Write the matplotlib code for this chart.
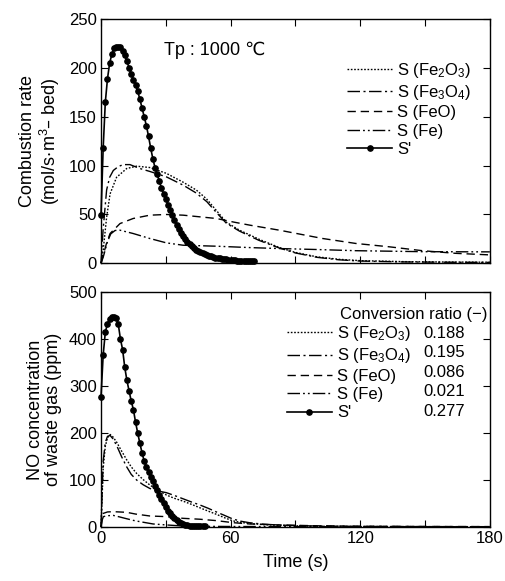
import numpy as np
import matplotlib
matplotlib.use("Agg")
import matplotlib.pyplot as plt

plt.rcParams['font.family'] = ['Liberation Sans', 'DejaVu Sans']
plt.rcParams['mathtext.default'] = 'regular'

# ---- data ----
# top panel: combustion rate (mol/s.m3-bed)
t_fe2o3_top = [0, 1, 2.6, 4.2, 7.2, 11.9, 16.5, 22.6, 30.3, 38, 44.2, 48.8, 53.4, 58, 64.1, 73.4, 82.6, 90, 100, 110, 120, 140, 160, 180]
v_fe2o3_top = [0, 13, 47, 71, 88, 97, 99.4, 98, 92, 83, 74.8, 66, 54, 42, 33.8, 24.3, 16, 11, 6.5, 4, 2.6, 1.6, 1.2, 1]

t_fe3o4_top = [0, 1, 2.6, 4, 5.7, 8, 10.3, 13.4, 18, 22.6, 30.3, 38, 44, 49, 53.4, 58, 64, 73, 82.6, 90, 100, 110, 120, 140, 160, 180]
v_fe3o4_top = [0, 35, 75, 88, 95, 99, 101, 101, 97, 94, 88.4, 80, 72, 63, 52, 41, 33, 23.5, 15.5, 10.5, 6, 3.5, 2.2, 1.3, 1, 0.8]

t_feo_top = [0, 1, 2.5, 4.2, 8.8, 14.9, 22.6, 30.3, 38, 45.7, 53.4, 61, 68.8, 82.6, 102.6, 118, 133.4, 148.8, 164.2, 180]
v_feo_top = [0, 8, 20, 30.4, 40.6, 45.8, 49.2, 49.9, 49.2, 47.5, 45.8, 42.3, 39, 33.8, 25.3, 20.2, 16.8, 12.8, 10.1, 8.5]

t_fe_top = [0, 1, 2, 3, 4.5, 6.5, 8.8, 14.9, 22.6, 30.3, 38, 53.4, 68.8, 82.6, 100, 118, 148.8, 180]
v_fe_top = [0, 6, 14, 22, 30, 33.5, 33.8, 30.4, 25.3, 20.8, 18.4, 17.4, 16, 15, 14, 12.8, 11.8, 11.6]

t_s_top = list(range(0, 72))
v_s_top = [49, 118, 165, 189, 205, 214, 220, 222, 222, 221, 217, 213, 207, 200, 194, 188, 183, 176, 168, 159,
           150, 141, 130, 118, 107, 98, 91, 84, 77, 71, 66, 60, 54, 49, 44, 39, 35, 31, 28, 25,
           22, 19.5, 17.5, 15.5, 14, 12.5, 11, 10, 9, 8.2, 7.5, 6.9, 6.3, 5.8, 5.3, 4.9, 4.5, 4.1, 3.8, 3.5,
           3.2, 3.0, 2.8, 2.6, 2.4, 2.3, 2.2, 2.1, 2.0, 1.9, 1.8, 1.8]

# bottom panel: NO concentration (ppm)
t_fe2o3_bot = [0, 0.5, 1, 2, 3, 4.2, 5.5, 7.2, 9.5, 11.9, 14, 16.5, 19.5, 22.6, 26, 30.3, 34, 38, 42, 45.7, 49.5, 53.4, 57, 61, 65, 68.8, 75, 82.6, 90, 100, 120, 150, 180]
v_fe2o3_bot = [0, 60, 125, 172, 190, 197, 192, 181, 162, 143, 128, 114, 101, 89.4, 79, 68, 61, 55, 48, 41, 34, 27, 20, 13, 9.5, 7.5, 5, 3.5, 2.5, 1.5, 1, 0.7, 0.5]

t_fe3o4_bot = [0, 0.5, 1, 2, 3, 4.2, 5.5, 7.2, 9.5, 11.9, 14, 16.5, 19.5, 22.6, 26, 30.3, 34, 38, 42, 45.7, 49.5, 53.4, 57, 61, 65, 68.8, 75, 82.6, 90, 100, 120, 150, 180]
v_fe3o4_bot = [0, 70, 140, 180, 193, 195, 188, 174, 150, 128, 112, 100, 90, 82, 77, 73, 67, 60, 53, 47, 40, 32, 25, 17, 12, 9, 6, 4, 3, 2, 1.2, 0.8, 0.6]

t_feo_bot = [0, 0.5, 1.1, 3, 5.7, 11.9, 16, 22.6, 30.3, 38, 45.7, 53.4, 61, 68.8, 82.6, 100, 120, 150, 180]
v_feo_bot = [0, 18, 29, 32, 32.6, 31.2, 27.5, 23.4, 22, 18.4, 16.5, 13.5, 9.2, 6.4, 4.3, 2.5, 1.5, 1, 0.8]

t_fe_bot = [0, 0.5, 1.1, 3, 5.7, 8.5, 11.9, 15, 18, 24.1, 30.3, 38, 45, 60, 90, 120, 180]
v_fe_bot = [0, 14, 22, 24, 24.6, 21.5, 17.5, 14, 11.3, 6.4, 4.3, 2, 1.4, 1, 0.7, 0.5, 0.4]

t_s_bot = list(range(0, 49))
v_s_bot = [277, 366, 415, 433, 443, 447, 447, 446, 432, 400, 378, 340, 312, 290, 268, 250, 223, 200, 178, 158,
           140, 128, 117, 106, 97, 87, 78, 69, 60, 51, 43, 35, 29, 23, 18.5, 14.5, 11, 8.5, 6.5, 5,
           3.8, 3.0, 2.4, 2.0, 1.8, 1.6, 1.5, 1.4, 1.3]

labels = ['S (Fe$_2$O$_3$)', 'S (Fe$_3$O$_4$)', 'S (FeO)', 'S (Fe)', "S'"]
conv_ratio = ['0.188', '0.195', '0.086', '0.021', '0.277']

# line styles per series
styles = [dict(ls=(0, (1.2, 1.2)), lw=1.0),
          dict(ls=(0, (9, 2.5, 1.5, 2.5)), lw=1.0),
          dict(ls=(0, (6, 3.5)), lw=1.0),
          dict(ls=(0, (9, 2.2, 1.3, 2.2, 1.3, 2.2)), lw=1.0),
          dict(ls='-', lw=1.2, marker='o', ms=3.8)]

fig = plt.figure(figsize=(5.05, 5.81), dpi=100)
ax1 = fig.add_axes([0.200, 0.547, 0.770, 0.420])
ax2 = fig.add_axes([0.200, 0.093, 0.770, 0.404])

top = [(t_fe2o3_top, v_fe2o3_top), (t_fe3o4_top, v_fe3o4_top), (t_feo_top, v_feo_top),
       (t_fe_top, v_fe_top), (t_s_top, v_s_top)]
bot = [(t_fe2o3_bot, v_fe2o3_bot), (t_fe3o4_bot, v_fe3o4_bot), (t_feo_bot, v_feo_bot),
       (t_fe_bot, v_fe_bot), (t_s_bot, v_s_bot)]

for ax, series in [(ax1, top), (ax2, bot)]:
    for (t, v), st, lab in zip(series, styles, labels):
        ax.plot(t, v, color='black', label=lab, clip_on=False, **st)
    ax.set_xlim(0, 180)
    ax.tick_params(direction='in', which='both', top=True, right=True, length=5, width=0.8,
                   labelsize=12, pad=3)
    ax.set_xticks(np.arange(0, 181, 60))
    ax.set_xticks(np.arange(0, 181, 30), minor=True)
    for sp in ax.spines.values():
        sp.set_linewidth(1.0)

ax1.set_ylim(0, 250)
ax1.set_yticks(np.arange(0, 251, 50))
ax1.tick_params(labelbottom=False)
ax2.set_ylim(0, 500)
ax2.set_yticks(np.arange(0, 501, 100))

ax1.set_ylabel('Combustion rate\n(mol/s$\\cdot$m$^{3}$– bed)', fontsize=13, linespacing=1.1, labelpad=5)
ax2.set_ylabel('NO concentration\nof waste gas (ppm)', fontsize=13, linespacing=1.1, labelpad=5)
ax2.set_xlabel('Time (s)', fontsize=13, labelpad=6)
fig.align_ylabels([ax1, ax2])

ax1.text(0.162, 0.873, 'Tp : 1000 ℃', transform=ax1.transAxes, fontsize=13, va='center', ha='left')

ax1.legend(loc='upper left', bbox_to_anchor=(0.633, 0.83), frameon=False, fontsize=12,
           handlelength=2.7, handletextpad=0.3, labelspacing=0.2, borderpad=0, borderaxespad=0)

ax2.legend(loc='upper left', bbox_to_anchor=(0.478, 0.864), frameon=False, fontsize=12,
           handlelength=2.7, handletextpad=0.3, labelspacing=0.2, borderpad=0, borderaxespad=0)
ax2.text(0.995, 0.905, 'Conversion ratio (−)', transform=ax2.transAxes, fontsize=12,
         ha='right', va='center')
for i, r in enumerate(conv_ratio):
    ax2.text(0.83, 0.826 - i * 0.083, r, transform=ax2.transAxes, fontsize=12, ha='left', va='center')

fig.savefig('out.png', dpi=100)
